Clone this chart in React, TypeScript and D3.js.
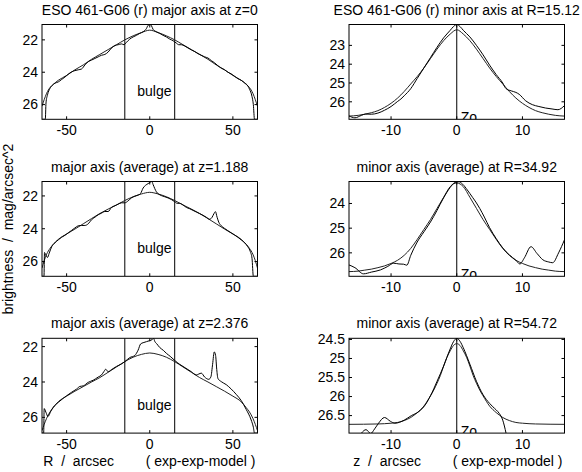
import React from 'react';
import * as d3 from 'd3';

// tick values
const majorTicks = [-50, 0, 50];
const minorTicks = [-10, 0, 10];
const bulgeEdges = [-15, 15];
const majorRange = [-64.8, 64.8];
const minorRange = [-16.4, 16.4];

// ---- major axis, z=0 ----
const r0ObsR = [-64.8, -62.8, -62.4, -61.5, -60, -58.5, -57, -55, -53, -51, -49, -47, -45, -43, -41, -39, -37, -35, -33, -31, -29, -27, -25, -23, -21, -19, -17, -15.5, -14, -12, -10, -8, -6, -4, -2, -1, 0, 1, 2, 4, 6, 8, 10, 12, 14, 16, 17.5, 19, 21, 23, 25, 27, 29, 31, 33, 35, 37, 39, 41, 43, 45, 47, 49, 51, 53, 55, 57, 59, 60, 61.5, 62.3, 63, 64.8];
const r0Obs = [26.91, 26.91, 25.9, 25.4, 25.0, 24.8, 24.68, 24.6, 24.45, 24.3, 24.12, 23.98, 23.9, 23.85, 23.8, 23.55, 23.35, 23.25, 23.15, 23.05, 22.95, 22.9, 22.75, 22.5, 22.35, 22.3, 22.25, 22.3, 22.15, 21.95, 21.82, 21.72, 21.6, 21.5, 21.3, 21.1, 21.05, 21.12, 21.35, 21.5, 21.6, 21.72, 21.82, 21.95, 22.05, 22.2, 22.3, 22.3, 22.38, 22.5, 22.62, 22.72, 22.85, 22.95, 23.05, 23.12, 23.28, 23.42, 23.6, 23.75, 23.85, 24.0, 24.1, 24.25, 24.4, 24.5, 24.65, 24.85, 25.05, 25.5, 26.0, 26.91, 26.91];
const majModelR = [-64.8, -63.5, -62, -60, -58, -55, -50, -45, -40, -35, -30, -25, -20, -15, -10, -5, 0, 5, 10, 15, 20, 25, 30, 35, 40, 45, 50, 55, 58, 60, 62, 63.5, 64.8];
const r0Model = [26.1, 25.7, 25.3, 24.95, 24.75, 24.5, 24.2, 23.85, 23.55, 23.2, 22.9, 22.6, 22.3, 22.0, 21.75, 21.55, 21.4, 21.55, 21.75, 22.0, 22.3, 22.6, 22.9, 23.2, 23.55, 23.85, 24.2, 24.5, 24.75, 24.95, 25.3, 25.7, 26.1];

// ---- minor axis, R=15.12 ----
const m0ObsZ = [-16.4, -15.5, -14.5, -13.9, -13, -12, -11, -10, -9, -8.5, -8, -7, -6, -5, -4, -3, -2, -1, -0.5, 0, 0.5, 1, 2, 3, 4, 5, 6, 7, 7.5, 8.3, 9, 9.5, 10.5, 11.5, 12.5, 13.5, 14.5, 15.4, 16.4];
const m0Obs = [26.75, 26.85, 26.72, 26.65, 26.66, 26.6, 26.45, 26.25, 25.98, 25.85, 25.68, 25.3, 24.75, 24.2, 23.65, 23.1, 22.6, 22.2, 22.0, 21.89, 22.0, 22.2, 22.55, 23.0, 23.5, 24.05, 24.55, 25.0, 25.3, 25.42, 25.5, 25.6, 25.95, 26.15, 26.25, 26.33, 26.38, 26.42, 26.2];
const minModelZ = [-16.4, -15, -14, -13, -12, -11, -10, -9, -8, -7, -6, -5, -4, -3, -2, -1, 0, 1, 2, 3, 4, 5, 6, 7, 8, 9, 10, 11, 12, 13, 14, 15, 16.4];
const m0Model = [26.76, 26.72, 26.66, 26.58, 26.47, 26.3, 26.08, 25.8, 25.45, 25.05, 24.65, 24.2, 23.7, 23.2, 22.75, 22.4, 22.17, 22.4, 22.75, 23.2, 23.7, 24.2, 24.65, 25.05, 25.45, 25.8, 26.08, 26.3, 26.47, 26.58, 26.66, 26.72, 26.76];

// ---- major axis, z=1.188 ----
const r1ObsR = [-64.8, -63.6, -63.3, -62.5, -61.5, -60.5, -59, -57, -55, -53, -51, -49, -47, -45, -43, -41, -39, -37, -35, -33, -31, -29, -27, -25, -23, -21, -19, -17, -15, -13, -11, -9, -7, -5.5, -4, -2.5, -1, 0.5, 1.2, 2, 3, 4, 5.5, 7, 9, 11, 13, 15, 16.5, 18, 20, 22, 24, 26, 28, 30, 32, 34, 36, 37.5, 38.5, 39.5, 40.5, 41.5, 43, 45, 47, 49, 51, 53, 55, 57, 59, 60.5, 61.5, 62.3, 64.8];
const r1Obs = [26.9, 26.9, 25.45, 25.6, 25.75, 25.5, 25.1, 24.85, 24.68, 24.52, 24.4, 24.25, 24.1, 23.95, 23.82, 23.8, 23.8, 23.7, 23.45, 23.3, 23.15, 23.05, 22.95, 22.95, 22.7, 22.6, 22.5, 22.42, 22.42, 22.3, 22.12, 22.02, 21.95, 21.85, 21.52, 21.35, 21.25, 21.15, 21.12, 21.3, 21.55, 21.75, 21.9, 21.98, 22.05, 22.12, 22.22, 22.35, 22.45, 22.45, 22.55, 22.7, 22.78, 22.88, 22.98, 23.08, 23.18, 23.3, 23.42, 23.3, 23.1, 22.96, 23.3, 23.6, 23.82, 23.98, 24.12, 24.25, 24.38, 24.52, 24.68, 24.85, 25.1, 25.4, 25.8, 26.9, 26.9];
const r1Model = [26.4, 25.95, 25.55, 25.2, 24.95, 24.65, 24.32, 24.02, 23.7, 23.38, 23.07, 22.8, 22.55, 22.28, 22.05, 21.88, 21.78, 21.88, 22.05, 22.28, 22.55, 22.8, 23.07, 23.38, 23.7, 24.02, 24.32, 24.65, 24.95, 25.2, 25.55, 25.95, 26.4];

// ---- minor axis, R=34.92 ----
const m1ObsZ = [-16.4, -15.5, -14.2, -13, -11.6, -10.5, -9.6, -8.8, -8.1, -7.6, -7, -6.1, -5, -4, -3, -2.1, -1, -0.3, 0.3, 0.9, 1.6, 2.4, 3, 3.5, 4.2, 5, 6, 7, 8, 9, 9.6, 10.3, 11.3, 12.2, 13.1, 14, 14.6, 15.5, 16.4];
const m1Obs = [26.49, 26.6, 26.85, 26.78, 26.69, 26.55, 26.42, 26.45, 26.46, 26.5, 26.1, 25.6, 25.15, 24.75, 24.28, 23.82, 23.35, 23.15, 23.12, 23.22, 23.45, 23.75, 23.98, 24.2, 24.55, 24.98, 25.42, 25.8, 26.08, 26.3, 26.45, 26.2, 25.75, 26.02, 26.28, 26.37, 26.4, 26.0, 25.47];
const m1Model = [26.76, 26.74, 26.7, 26.66, 26.6, 26.53, 26.43, 26.3, 26.1, 25.82, 25.45, 25.05, 24.65, 24.2, 23.75, 23.32, 23.17, 23.32, 23.75, 24.2, 24.65, 25.05, 25.45, 25.82, 26.1, 26.3, 26.43, 26.53, 26.6, 26.66, 26.7, 26.74, 26.76];

// ---- major axis, z=2.376 ----
const r2ObsR = [-64.8, -63.8, -63.5, -62.5, -61.2, -59.5, -58, -55, -52, -50, -47, -44, -42, -40, -37, -34, -31, -29, -27.5, -26.5, -25, -23, -20, -17, -15, -12, -9, -7, -5.5, -4, -2, 0, 1.5, 2.3, 3, 4.3, 6, 8.3, 10, 12.3, 15, 18, 20, 23, 25, 28, 29.5, 31, 33, 35.5, 36.8, 37.8, 38.8, 39.6, 40.3, 41, 43, 46, 49, 52, 55, 58, 61, 62.3, 63, 64.8];
const r2Obs = [26.89, 26.89, 25.5, 25.7, 25.95, 25.65, 25.42, 25.15, 24.92, 24.78, 24.58, 24.4, 24.25, 24.22, 24.02, 23.9, 23.72, 23.6, 23.4, 23.28, 23.42, 23.3, 23.12, 22.98, 22.85, 22.62, 22.5, 22.2, 21.85, 21.78, 21.72, 21.66, 21.6, 21.53, 21.7, 21.85, 22.05, 22.22, 22.38, 22.55, 22.78, 23.0, 23.12, 23.3, 23.42, 23.6, 23.55, 23.5, 23.72, 23.85, 23.7, 23.0, 22.3, 22.5, 23.3, 23.8, 23.98, 24.15, 24.4, 24.7, 25.05, 25.55, 26.15, 26.55, 26.89, 26.89];
const r2Model = [26.75, 26.4, 26.05, 25.7, 25.45, 25.12, 24.8, 24.52, 24.26, 24.0, 23.75, 23.45, 23.15, 22.85, 22.6, 22.44, 22.36, 22.44, 22.6, 22.85, 23.15, 23.45, 23.75, 24.0, 24.26, 24.52, 24.8, 25.12, 25.45, 25.7, 26.05, 26.4, 26.75];

// ---- minor axis, R=54.72 ----
const m2ObsZ = [-16.4, -15, -14.5, -13.8, -13.1, -12.5, -11.9, -11, -10.1, -9.4, -8, -6.9, -5.8, -4.8, -4, -3, -2, -1, -0.5, 0, 0.5, 1, 2, 3, 4, 5, 5.5, 6, 6.5, 7, 7.5, 8];
const m2Obs = [27.2, 27.1, 26.96, 26.87, 26.97, 26.85, 26.7, 26.55, 26.65, 26.7, 26.62, 26.5, 26.4, 26.22, 25.98, 25.6, 25.2, 24.75, 24.56, 24.47, 24.55, 24.72, 25.15, 25.6, 25.95, 26.18, 26.27, 26.35, 26.45, 26.62, 26.96, 27.4];
const m2ModelZ = [-16.4, -12, -10, -9, -8, -7, -6, -5, -4, -3.5, -3, -2.5, -2, -1.5, -1, -0.5, 0, 0.5, 1, 1.5, 2, 2.5, 3, 3.5, 4, 5, 6, 7, 8, 9, 10, 12, 16.4];
const m2Model = [26.73, 26.72, 26.7, 26.68, 26.63, 26.55, 26.42, 26.25, 25.98, 25.83, 25.65, 25.45, 25.2, 24.97, 24.8, 24.66, 24.61, 24.66, 24.8, 24.97, 25.2, 25.45, 25.65, 25.83, 25.98, 26.25, 26.42, 26.55, 26.63, 26.68, 26.7, 26.72, 26.73];

const zip = (xs: number[], ys: number[]) => xs.map((x, i) => [x, ys[i]] as [number, number]);

const panels = [
  { title: 'ESO 461-G06 (r) major axis at z=0', major: true, yDomain: [21.05, 26.91], yTicks: [22, 24, 26], obs: zip(r0ObsR, r0Obs), model: zip(majModelR, r0Model) },
  { title: 'ESO 461-G06 (r) minor axis at R=15.12', major: false, yDomain: [21.89, 26.93], yTicks: [23, 24, 25, 26], obs: zip(m0ObsZ, m0Obs), model: zip(minModelZ, m0Model) },
  { title: 'major axis (average) at z=1.188', major: true, yDomain: [21.12, 26.9], yTicks: [22, 24, 26], obs: zip(r1ObsR, r1Obs), model: zip(majModelR, r1Model) },
  { title: 'minor axis (average) at R=34.92', major: false, yDomain: [23.11, 26.95], yTicks: [24, 25, 26], obs: zip(m1ObsZ, m1Obs), model: zip(minModelZ, m1Model) },
  { title: 'major axis (average) at z=2.376', major: true, yDomain: [21.53, 26.89], yTicks: [22, 24, 26], obs: zip(r2ObsR, r2Obs), model: zip(majModelR, r2Model) },
  { title: 'minor axis (average) at R=54.72', major: false, yDomain: [24.47, 26.96], yTicks: [24.5, 25, 25.5, 26, 26.5], obs: zip(m2ObsZ, m2Obs), model: zip(m2ModelZ, m2Model) },
];

const colX = [42, 349];
const rowY = [24.5, 181.5, 338.3];
const W = 215.5;
const H = 94.8;
const FONT = '"Liberation Sans", Arial, Helvetica, sans-serif';
const TICK = 3;

function Panel({ p, idx }: { p: any; idx: number }) {
  const x0 = colX[idx % 2];
  const y0 = rowY[Math.floor(idx / 2)];
  const x = d3.scaleLinear().domain(p.major ? majorRange : minorRange).range([0, W]);
  const y = d3.scaleLinear().domain(p.yDomain).range([0, H]);
  const line = d3.line<[number, number]>().x(d => x(d[0])).y(d => y(d[1])).curve(d3.curveMonotoneX);
  const xTicks = p.major ? majorTicks : minorTicks;
  const clip = `clip${idx}`;
  return (
    <g transform={`translate(${x0},${y0})`}>
      <defs>
        <clipPath id={clip}><rect x={0} y={0} width={W} height={H} /></clipPath>
      </defs>
      <text x={W / 2} y={-10} textAnchor="middle" fontSize={14}>{p.title}</text>
      <g clipPath={`url(#${clip})`}>
        {p.major
          ? bulgeEdges.map(b => <line key={b} x1={x(b)} x2={x(b)} y1={0} y2={H} stroke="#000" strokeWidth={1} />)
          : <line x1={x(0)} x2={x(0)} y1={0} y2={H} stroke="#000" strokeWidth={1} />}
        <path d={line(p.model) || ''} fill="none" stroke="#222" strokeWidth={1} />
        <path d={line(p.obs) || ''} fill="none" stroke="#000" strokeWidth={1} />
        {p.major
          ? <text x={x(-7.5)} y={H - 23} fontSize={14}>bulge</text>
          : <text x={x(0) + 4} y={H + 2.5} fontSize={14}>Zo</text>}
      </g>
      <rect x={0} y={0} width={W} height={H} fill="none" stroke="#000" strokeWidth={1} />
      {xTicks.map((t: number) => (
        <g key={t}>
          <line x1={x(t)} x2={x(t)} y1={H} y2={H - TICK} stroke="#000" />
          <line x1={x(t)} x2={x(t)} y1={0} y2={TICK} stroke="#000" />
          <text x={x(t)} y={H + 16} textAnchor="middle" fontSize={14}>{t}</text>
        </g>
      ))}
      {p.yTicks.map((t: number) => (
        <g key={t}>
          <line x1={0} x2={TICK} y1={y(t)} y2={y(t)} stroke="#000" />
          <line x1={W} x2={W - TICK} y1={y(t)} y2={y(t)} stroke="#000" />
          <text x={-4} y={y(t)} dy="0.35em" textAnchor="end" fontSize={14}>{t}</text>
        </g>
      ))}
    </g>
  );
}

export default function App() {
  return (
    <svg width={582} height={472} style={{ position: 'absolute', left: 0, top: 0, background: '#fff' }}
      fontFamily={FONT} fill="#000">
      <rect width={582} height={472} fill="#fff" />
      {panels.map((p, i) => <Panel key={i} p={p} idx={i} />)}
      <text transform="translate(12.8,229) rotate(-90)" textAnchor="middle" fontSize={14} style={{ whiteSpace: 'pre' }}>
        {'brightness  /  mag/arcsec^2'}
      </text>
      <text x={43.3} y={466} fontSize={14} style={{ whiteSpace: 'pre' }}>{'R  /  arcsec'}</text>
      <text x={145.7} y={466} fontSize={14} style={{ whiteSpace: 'pre' }}>{'( exp-exp-model )'}</text>
      <text x={353.3} y={466} fontSize={14} style={{ whiteSpace: 'pre' }}>{'z  /  arcsec'}</text>
      <text x={452.7} y={466} fontSize={14} style={{ whiteSpace: 'pre' }}>{'( exp-exp-model )'}</text>
    </svg>
  );
}
